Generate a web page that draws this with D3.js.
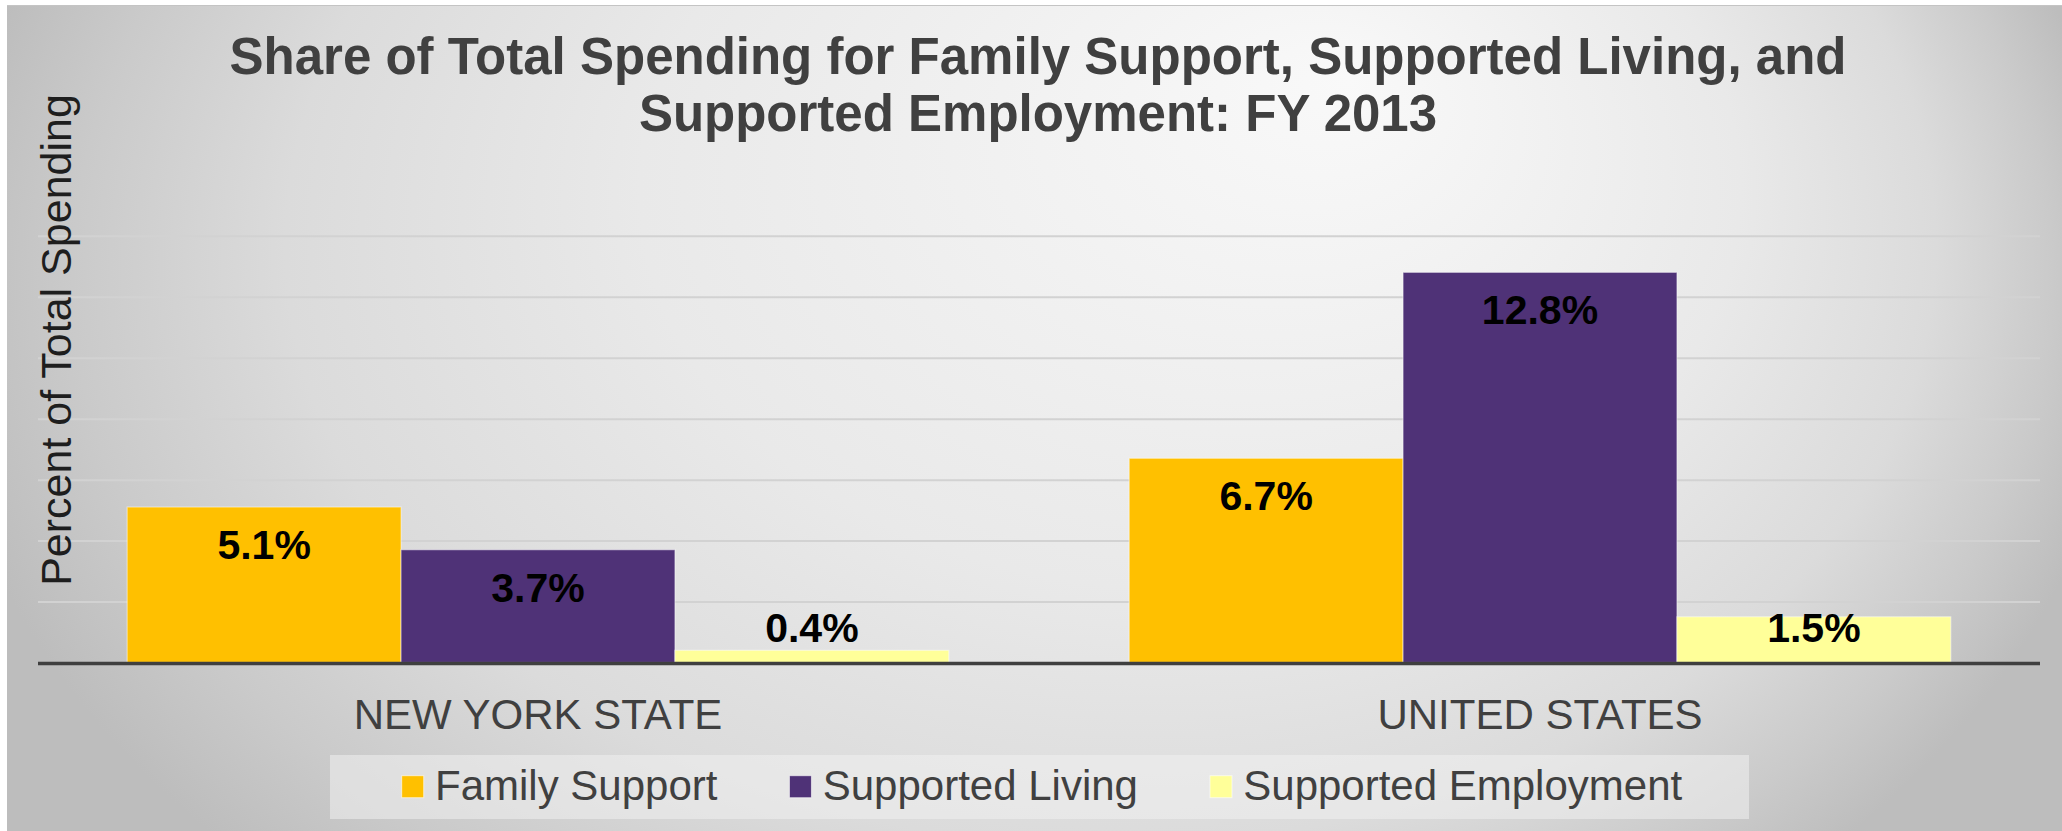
<!DOCTYPE html>
<html>
<head>
<meta charset="utf-8">
<script src="https://cdn.jsdelivr.net/npm/d3@7/dist/d3.min.js"></script>
<style>
  html, body { margin: 0; padding: 0; background: #ffffff; }
  svg { display: block; }
  text { font-family: Arial, "Liberation Sans", sans-serif; }
</style>
</head>
<body>
<svg id="chart" width="2062" height="831"></svg>
<script>
// ---- data ----
const categories = ["NEW YORK STATE", "UNITED STATES"];
const seriesNames = ["Family Support", "Supported Living", "Supported Employment"];
const familySupport = [5.1, 6.7];
const supportedLiving = [3.7, 12.8];
const supportedEmployment = [0.4, 1.5];
const gridTicks = [2, 4, 6, 8, 10, 12, 14];
const titleLines = ["Share of Total Spending for Family Support, Supported Living, and",
                    "Supported Employment: FY 2013"];
const yAxisTitle = "Percent of Total Spending";

const seriesValues = [familySupport, supportedLiving, supportedEmployment];
const seriesColors = ["#FFC000", "#4F3277", "#FFFF99"];

// rows for the grouped bars
const rows = categories.map((c, i) => ({
  category: c,
  values: seriesNames.map((s, j) => ({ series: s, value: seriesValues[j][i], color: seriesColors[j] }))
}));

// ---- layout ----
const W = 2062, H = 831;
const plot = { left: 37, right: 2041, top: 235.8, bottom: 662.5 };

const svg = d3.select("#chart");
const defs = svg.append("defs");

// slide background: soft light spot upper-right of centre, grey towards the edges
const bg = defs.append("radialGradient")
  .attr("id", "bgGrad")
  .attr("gradientUnits", "userSpaceOnUse")
  .attr("cx", 0).attr("cy", 0).attr("r", 1)
  .attr("fx", 0.29).attr("fy", -0.275)
  .attr("gradientTransform", "translate(1031,300) scale(1100,800)");
[[0, "#f9f9f9"], [0.5, "#e9e9e9"], [0.75, "#dbdbdb"], [0.9, "#cacaca"], [1, "#bdbdbd"]]
  .forEach(([o, c]) => bg.append("stop").attr("offset", o).attr("stop-color", c));

// gridline stroke darkens towards the axis
const gg = defs.append("linearGradient")
  .attr("id", "gridGrad")
  .attr("gradientUnits", "userSpaceOnUse")
  .attr("x1", 0).attr("y1", 230).attr("x2", 0).attr("y2", 610);
gg.append("stop").attr("offset", 0).attr("stop-color", "#d2d2d2");
gg.append("stop").attr("offset", 1).attr("stop-color", "#9a9a9a");

svg.append("rect").attr("x", 0).attr("y", 0).attr("width", W).attr("height", H).attr("fill", "#ffffff");
svg.append("rect").attr("x", 7).attr("y", 5).attr("width", W - 7).attr("height", H - 5).attr("fill", "url(#bgGrad)");
svg.append("line").attr("x1", 7).attr("x2", W).attr("y1", 5.5).attr("y2", 5.5)
  .attr("stroke", "#c4c4c4").attr("stroke-width", 1);

// ---- scales ----
const x0 = d3.scaleBand().domain(categories).range([plot.left, plot.right])
  .paddingInner(0.18).paddingOuter(0.09);
const x1 = d3.scaleBand().domain(seriesNames).range([0, x0.bandwidth()]).padding(0);
const y = d3.scaleLinear().domain([0, 14]).range([plot.bottom, plot.top]);

// ---- gridlines ----
const yGrid = d3.axisLeft(y).tickValues(gridTicks).tickSize(-(plot.right - plot.left - 2)).tickFormat("");
const gridG = svg.append("g").attr("transform", `translate(${plot.left + 1},0)`).call(yGrid);
gridG.select(".domain").remove();
gridG.selectAll(".tick line").attr("stroke", "url(#gridGrad)").attr("stroke-width", 2);

// ---- bars ----
const groups = svg.append("g").selectAll("g").data(rows).join("g")
  .attr("transform", d => `translate(${x0(d.category)},0)`);

groups.selectAll("rect").data(d => d.values).join("rect")
  .attr("x", d => x1(d.series))
  .attr("y", d => y(d.value))
  .attr("width", x1.bandwidth())
  .attr("height", d => y(0) - y(d.value))
  .attr("fill", d => d.color)
  .attr("stroke", "rgba(255,255,255,0.45)")
  .attr("stroke-width", 1.2);

// value labels, kept inside the plot for short bars
const labelMaxBaseline = 642;
groups.selectAll("text").data(d => d.values).join("text")
  .attr("x", d => x1(d.series) + x1.bandwidth() / 2)
  .attr("y", d => Math.min(y(d.value) + 52, labelMaxBaseline))
  .attr("text-anchor", "middle")
  .attr("font-weight", "bold")
  .attr("font-size", 41)
  .attr("fill", "#000000")
  .text(d => d.value.toFixed(1) + "%");

// ---- category axis ----
const xAxis = d3.axisBottom(x0).tickSize(0).tickPadding(0);
const xg = svg.append("g").attr("transform", `translate(0,${plot.bottom})`).call(xAxis);
xg.select(".domain").remove();
xg.selectAll(".tick text")
  .attr("y", 66.5).attr("dy", 0)
  .attr("font-size", 42)
  .attr("font-family", "Arial, 'Liberation Sans', sans-serif")
  .attr("fill", "#404040");

// baseline
svg.append("line")
  .attr("x1", plot.left + 1).attr("x2", plot.right - 1)
  .attr("y1", y(0) + 1).attr("y2", y(0) + 1)
  .attr("stroke", "#3f3f3f").attr("stroke-width", 3.4);

// ---- titles ----
const title = svg.append("text")
  .attr("text-anchor", "middle")
  .attr("font-weight", "bold")
  .attr("font-size", 51)
  .attr("fill", "#404040");
titleLines.forEach((t, i) => {
  title.append("tspan").attr("x", 1038).attr("y", 74 + i * 57).text(t);
});

svg.append("text")
  .attr("transform", "translate(71,340) rotate(-90)")
  .attr("text-anchor", "middle")
  .attr("font-size", 43)
  .attr("fill", "#1e1e1e")
  .text(yAxisTitle);

// ---- legend ----
svg.append("rect")
  .attr("x", 330).attr("y", 755).attr("width", 1419).attr("height", 64)
  .attr("fill", "rgba(240,240,240,0.55)");

const legend = svg.append("g");
let lx = 401.7;
seriesNames.forEach((name, i) => {
  legend.append("rect")
    .attr("x", lx).attr("y", 775.7).attr("width", 22).attr("height", 22)
    .attr("fill", seriesColors[i])
    .attr("stroke", "rgba(255,255,255,0.6)").attr("stroke-width", 1);
  const t = legend.append("text")
    .attr("x", lx + 33.3).attr("y", 800)
    .attr("font-size", 42)
    .attr("fill", "#404040")
    .text(name);
  lx += 33.3 + t.node().getComputedTextLength() + 72;
});
</script>
</body>
</html>
